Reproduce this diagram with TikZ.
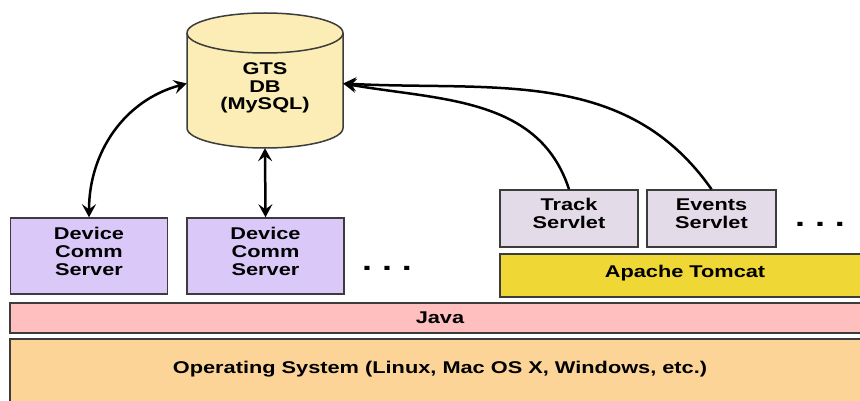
\documentclass[tikz,border=0pt]{standalone}
\usepackage{fontspec}
\newfontfamily\boxfont[FakeStretch=1.28]{Liberation Sans}
\usetikzlibrary{arrows.meta}
\definecolor{linegray}{HTML}{3C3C3C}
\definecolor{dbfill}{HTML}{FBEDB5}
\definecolor{devfill}{HTML}{D9C8F8}
\definecolor{servfill}{HTML}{E4DBE9}
\definecolor{tomcatfill}{HTML}{EFD736}
\definecolor{javafill}{HTML}{FFBFBF}
\definecolor{osfill}{HTML}{FCD497}

\begin{document}
\begin{tikzpicture}
            [
                x=1pt, y=-1pt,
                >={Stealth[length=13pt, width=14pt, inset=5pt]},
                layer/.style={rectangle, draw=linegray, line width=1.5pt, inner sep=0pt, align=center, font=\boxfont\bfseries\fontsize{17}{18}\selectfont},
                box/.style={layer, text depth=10pt},
                dots/.style={inner sep=0pt, font=\boxfont\bfseries\fontsize{28}{28}\selectfont},
                link/.style={line width=2.5pt},
                cyl/.style={draw=linegray, line width=1.5pt, fill=dbfill}
            ]
            \fill[white] (0,0) rectangle (860,401);
            \useasboundingbox (0,0) rectangle (860,401);
            %database drum
            \draw[cyl] (187,33) -- (187,128) arc[start angle=180, end angle=360, x radius=78pt, y radius=20pt] -- (343,33) arc[start angle=0, end angle=180, x radius=78pt, y radius=20pt] -- cycle;
            \draw[cyl, fill=none] (187,33) arc[start angle=180, end angle=360, x radius=78pt, y radius=20pt];
            %nodes
            \node[minimum width=156pt, minimum height=135pt, inner sep=0pt] at (265,80.5) (db) {};
            \node[align=center, inner sep=0pt, font=\boxfont\bfseries\fontsize{17}{17.5}\selectfont] at (265,88) (db_label) {GTS\\DB\\(MySQL)};
            \node[box, fill=devfill, minimum width=157pt, minimum height=76pt] at (89,256)    (dev_a)   {Device\\Comm\\Server};
            \node[box, fill=devfill, minimum width=157pt, minimum height=76pt] at (265.5,256) (dev_b)   {Device\\Comm\\Server};
            \node[dots] at (387,268)  (dev_more)  {.\ .\ .};
            \node[box, fill=servfill, minimum width=138pt, minimum height=57pt] at (569,218.5)  (track)   {Track\\Servlet};
            \node[box, fill=servfill, minimum width=129pt, minimum height=57pt] at (711.5,218.5) (events)  {Events\\Servlet};
            \node[dots] at (820,224)  (serv_more) {.\ .\ .};
            \node[layer, fill=tomcatfill, minimum width=370pt, minimum height=43pt, text depth=8pt] at (685,275.5) (tomcat) {Apache Tomcat};
            \node[layer, fill=javafill, minimum width=860pt, minimum height=30pt] at (440,318)   (java)    {Java};
            \node[layer, fill=osfill, minimum width=860pt, minimum height=80pt, text depth=23pt] at (440,379) (os) {Operating System (Linux, Mac OS X, Windows, etc.)};
            %arrows
            \draw[link, <->] (dev_a.north) to[out=90, in=195] ([yshift=-3pt]db.west);
            \draw[link, <->] (db.south) -- (dev_b.north);
            \draw[link, <-] ([yshift=-3pt]db.east) to[out=-10, in=108] (track.north);
            \draw[link, <-] ([yshift=-3pt]db.east) to[out=-3, in=125] (events.north);
        \end{tikzpicture}
\end{document}
